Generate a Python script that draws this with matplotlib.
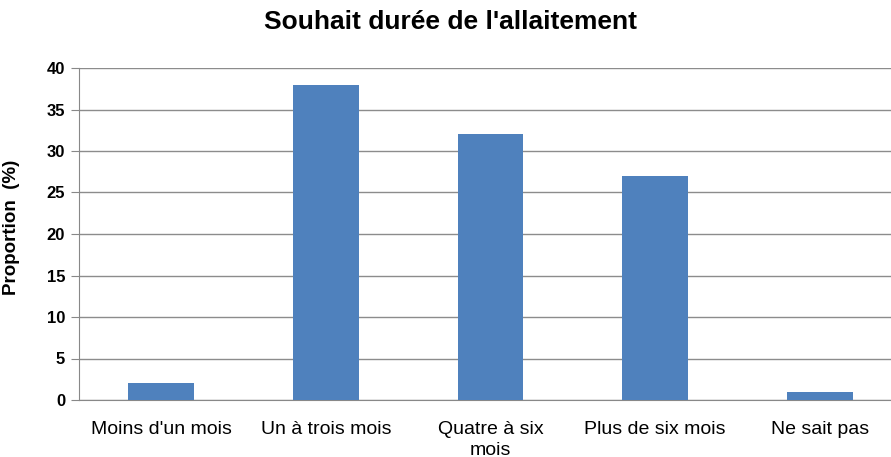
import matplotlib
matplotlib.use('Agg')
import matplotlib.pyplot as plt
import numpy as np

plt.rcParams['font.family'] = ['Liberation Sans', 'DejaVu Sans']

categories = ["Moins d'un mois", "Un à trois mois", "Quatre à six\nmois",
              "Plus de six mois", "Ne sait pas"]
proportions = [2, 38, 32, 27, 1]
yticks = [0, 5, 10, 15, 20, 25, 30, 35, 40]

fig = plt.figure(figsize=(8.91, 4.57), dpi=100)
# plot area runs slightly past the right edge of the picture
ax = fig.add_axes([79 / 891, 57 / 457, 823 / 891, 332 / 457])

x = np.arange(len(categories))
ax.bar(x, proportions, width=0.40, color='#4F81BD', zorder=3)

ax.set_xlim(-0.5, len(categories) - 0.5)
ax.set_ylim(0, 40)
ax.set_yticks(yticks)
ax.set_yticklabels([str(v) for v in yticks], fontsize=12, fontweight='bold')
ax.set_xticks(x)
ax.set_xticklabels(categories, fontsize=14, linespacing=1.3)
ax.tick_params(axis='x', length=0, pad=15)
ax.tick_params(axis='y', length=6, color='#888888', pad=4)

ax.yaxis.grid(True, color='#8c8c8c', linewidth=1, zorder=0)
for side in ['top', 'right']:
    ax.spines[side].set_visible(False)
ax.spines['left'].set_color('#888888')
ax.spines['bottom'].set_color('#888888')

ax.set_ylabel('Proportion  (%)', fontsize=13.5, fontweight='bold')
ax.yaxis.set_label_coords(-59 / 823, 0.52)
fig.text(451 / 891, 1 - 22 / 457, "Souhait durée de l'allaitement", ha='center',
         va='center', fontsize=19, fontweight='bold')

fig.savefig('out.png', dpi=100, facecolor='white')
plt.close()
